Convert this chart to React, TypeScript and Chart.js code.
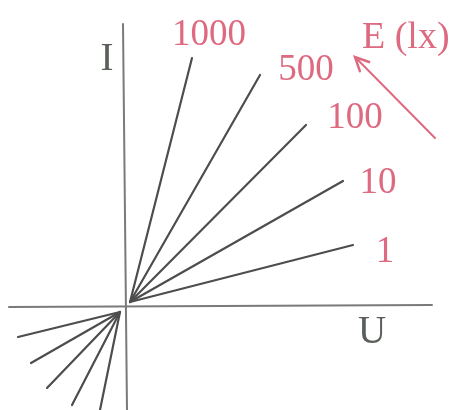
import React, { useEffect, useRef } from "react";
import { Chart, registerables } from "chart.js";

Chart.register(...registerables);

// Illuminance levels E (lx), one characteristic line per level
const illuminance = ["1", "10", "100", "500", "1000"];

// Upper (first quadrant) part of each line: common start, end points (U, I)
const upperStart = [5, 4];
const upperEndU = [228, 218, 181, 135, 67];
const upperEndI = [61, 125, 181, 231, 248];

// Lower (third quadrant) part of each line
const lowerStart = [-5, -6];
const lowerEndU = [-107, -94, -78, -53, -25];
const lowerEndI = [-31, -57, -82, -99, -104];

// Label anchor points (text baseline centre) for E values
const labelU = [260, 253, 230, 181, 84];
const labelI = [44, 113, 178, 226, 261];

// Axes
const uAxisU = [-116, 307];
const uAxisI = [-1, 1];
const iAxisU = [-2, 2];
const iAxisI = [282, -104];

// Axis names and the "E (lx)" caption
const axisNames = ["U", "I"];
const axisNameU = [247, -18];
const axisNameI = [-37, 236];
const captionText = "E (lx)";
const captionPos = [237, 258];

// Arrow showing increasing E: tail -> head
const arrowU = [310, 230];
const arrowI = [168, 249];

const LINE = "#4d4d4d";
const AXIS = "#7a7a7a";
const RED = "#de6a80";
const FONT = "'Liberation Serif', 'DejaVu Serif', serif";

export default function App() {
  const ref = useRef<HTMLCanvasElement | null>(null);

  useEffect(() => {
    document.body.style.margin = "0";
    const canvas = ref.current;
    if (!canvas) return;

    const datasets: any[] = [];
    datasets.push({
      data: [
        { x: uAxisU[0], y: uAxisI[0] },
        { x: uAxisU[1], y: uAxisI[1] },
      ],
      borderColor: AXIS,
      borderWidth: 2,
    });
    datasets.push({
      data: [
        { x: iAxisU[0], y: iAxisI[0] },
        { x: iAxisU[1], y: iAxisI[1] },
      ],
      borderColor: AXIS,
      borderWidth: 2,
    });
    illuminance.forEach((_, k) => {
      datasets.push({
        data: [
          { x: upperStart[0], y: upperStart[1] },
          { x: upperEndU[k], y: upperEndI[k] },
        ],
        borderColor: LINE,
        borderWidth: 2.2,
      });
      datasets.push({
        data: [
          { x: lowerStart[0], y: lowerStart[1] },
          { x: lowerEndU[k], y: lowerEndI[k] },
        ],
        borderColor: LINE,
        borderWidth: 2.2,
      });
    });
    datasets.push({
      data: [
        { x: arrowU[0], y: arrowI[0] },
        { x: arrowU[1], y: arrowI[1] },
      ],
      borderColor: RED,
      borderWidth: 2,
    });
    datasets.forEach((d) => {
      d.showLine = true;
      d.pointRadius = 0;
      d.fill = false;
      d.borderCapStyle = "round";
    });

    const textPlugin = {
      id: "labels",
      afterDatasetsDraw(chart: any) {
        const { ctx, scales } = chart;
        const px = (u: number) => scales.x.getPixelForValue(u);
        const py = (i: number) => scales.y.getPixelForValue(i);
        ctx.save();
        // arrowhead
        const x1 = px(arrowU[0]);
        const y1 = py(arrowI[0]);
        const x2 = px(arrowU[1]);
        const y2 = py(arrowI[1]);
        const ang = Math.atan2(y2 - y1, x2 - x1);
        const len = 15;
        ctx.strokeStyle = RED;
        ctx.lineWidth = 2.5;
        ctx.lineCap = "round";
        ctx.beginPath();
        ctx.moveTo(x2 + len * Math.cos(ang + Math.PI - 0.45), y2 + len * Math.sin(ang + Math.PI - 0.45));
        ctx.lineTo(x2, y2);
        ctx.lineTo(x2 + len * Math.cos(ang + Math.PI + 0.45), y2 + len * Math.sin(ang + Math.PI + 0.45));
        ctx.stroke();

        ctx.textBaseline = "alphabetic";
        ctx.textAlign = "center";
        ctx.fillStyle = RED;
        ctx.font = `37px ${FONT}`;
        illuminance.forEach((t, k) => {
          ctx.fillText(t, px(labelU[k]), py(labelI[k]));
        });
        ctx.textAlign = "left";
        ctx.font = `38px ${FONT}`;
        ctx.fillText(captionText, px(captionPos[0]), py(captionPos[1]));

        ctx.textAlign = "center";
        ctx.fillStyle = "#5a5f5a";
        ctx.font = `39px ${FONT}`;
        axisNames.forEach((t, k) => {
          ctx.fillText(t, px(axisNameU[k]), py(axisNameI[k]));
        });
        ctx.restore();
      },
    };

    const chart = new Chart(canvas, {
      type: "scatter",
      data: { datasets },
      options: {
        animation: false,
        responsive: false,
        devicePixelRatio: 1,
        layout: { padding: 0 },
        plugins: { legend: { display: false }, tooltip: { enabled: false } },
        scales: {
          x: { type: "linear", min: -125, max: 331, display: false },
          y: { type: "linear", min: -104, max: 306, display: false },
        },
      },
      plugins: [textPlugin],
    });
    return () => chart.destroy();
  }, []);

  return (
    <div style={{ width: 456, height: 410, background: "#fff" }}>
      <canvas ref={ref} width={456} height={410} style={{ display: "block" }} />
    </div>
  );
}
